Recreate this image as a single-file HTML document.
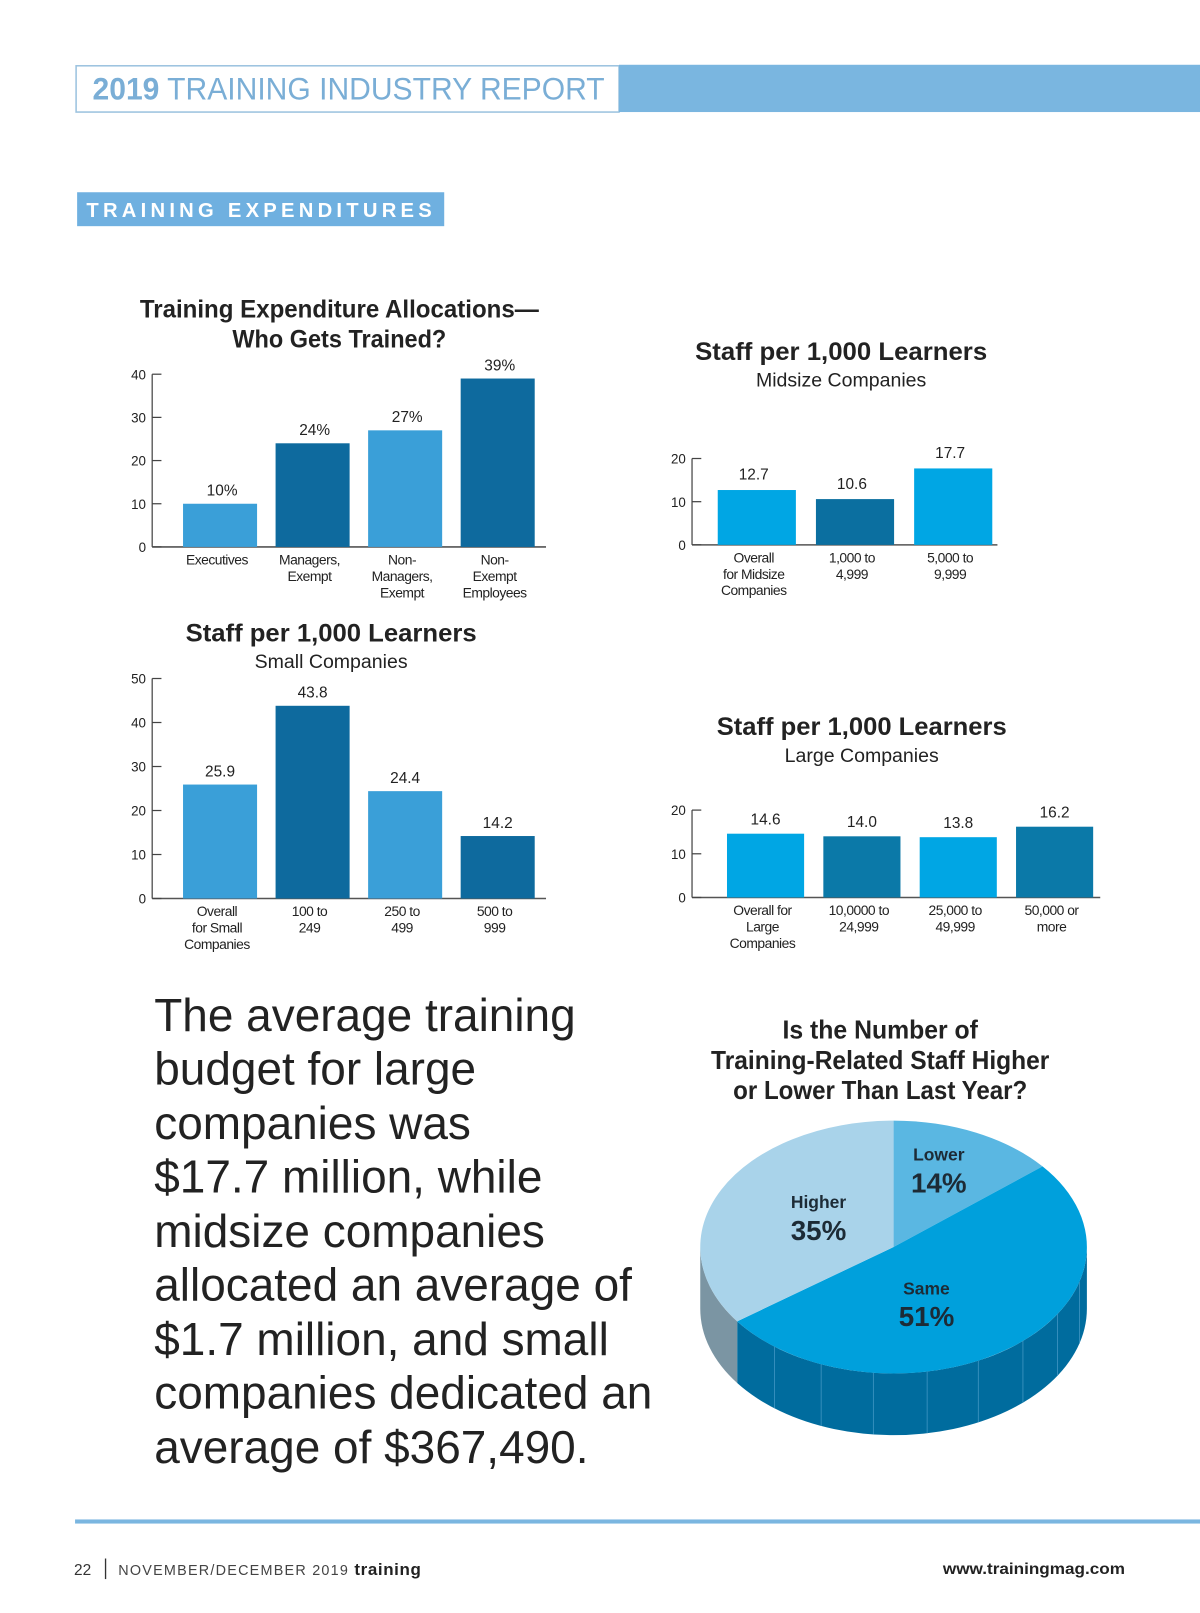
<!DOCTYPE html>
<html><head><meta charset="utf-8"><style>
html,body{margin:0;padding:0;background:#fff;}
svg{display:block;}
text{font-family:"Liberation Sans",sans-serif;}
</style></head><body>
<svg id="page" width="1200" height="1613" viewBox="0 0 1167 1569" preserveAspectRatio="none" xmlns="http://www.w3.org/2000/svg">
<g>
<rect x="74" y="64" width="528" height="45" fill="#fff" stroke="#9cc3df" stroke-width="1.5"/>
<rect x="602" y="63" width="565" height="46" fill="#7ab6e0"/>
<text x="90" y="97" font-size="31" fill="#7aaed6" textLength="498" lengthAdjust="spacingAndGlyphs"><tspan font-weight="bold">2019</tspan> TRAINING INDUSTRY REPORT</text>
</g>
<g>
<rect x="75" y="187" width="357" height="33" fill="#6fb0e0"/>
<text x="84" y="211" font-size="20" font-weight="bold" fill="#fff" letter-spacing="4.2" textLength="340" lengthAdjust="spacingAndGlyphs">TRAINING EXPENDITURES</text>
</g>
<g id="c1"></g>
<g id="c2"></g>
<g id="c3"></g>
<g id="c4"></g>
<g font-size="44.7" fill="#222">
<text x="150" y="1003">The average training</text>
<text x="150" y="1055">budget for large</text>
<text x="150" y="1108">companies was</text>
<text x="150" y="1160">$17.7 million, while</text>
<text x="150" y="1213">midsize companies</text>
<text x="150" y="1265">allocated an average of</text>
<text x="150" y="1318">$1.7 million, and small</text>
<text x="150" y="1370">companies dedicated an</text>
<text x="150" y="1423">average of $367,490.</text>
</g>
<g font-size="25" font-weight="bold" fill="#222" text-anchor="middle">
<text x="856" y="1010" textLength="190" lengthAdjust="spacingAndGlyphs">Is the Number of</text>
<text x="856" y="1040" textLength="329" lengthAdjust="spacingAndGlyphs">Training-Related Staff Higher</text>
<text x="856" y="1069" textLength="286" lengthAdjust="spacingAndGlyphs">or Lower Than Last Year?</text>
</g>
<g id="pie"></g>
<g>
<rect x="73" y="1478" width="1094" height="4" fill="#7ab6e0"/>
<text x="72" y="1532" font-size="15" fill="#333">22</text>
<rect x="102" y="1516" width="1.3" height="20" fill="#333"/>
<text x="115" y="1532" font-size="14" fill="#444" letter-spacing="1.2">NOVEMBER/DECEMBER 2019 <tspan font-weight="bold" fill="#222" letter-spacing="0.6" font-size="16.5">training</tspan></text>
<text x="1094" y="1531" font-size="15" font-weight="bold" fill="#222" text-anchor="end" textLength="177" lengthAdjust="spacingAndGlyphs">www.trainingmag.com</text>
</g>
</svg>
<script>
// Chart 1: allocations
const c1Categories = [["Executives"],["Managers,","Exempt"],["Non-","Managers,","Exempt"],["Non-","Exempt","Employees"]];
const c1Values = [10, 24, 27, 39];
const c1Ticks = [0, 10, 20, 30, 40];
// Chart 2: midsize
const c2Categories = [["Overall","for Midsize","Companies"],["1,000 to","4,999"],["5,000 to","9,999"]];
const c2Values = [12.7, 10.6, 17.7];
const c2Ticks = [0, 10, 20];
// Chart 3: small
const c3Categories = [["Overall","for Small","Companies"],["100 to","249"],["250 to","499"],["500 to","999"]];
const c3Values = [25.9, 43.8, 24.4, 14.2];
const c3Ticks = [0, 10, 20, 30, 40, 50];
// Chart 4: large
const c4Categories = [["Overall for","Large","Companies"],["10,0000 to","24,999"],["25,000 to","49,999"],["50,000 or","more"]];
const c4Values = [14.6, 14.0, 13.8, 16.2];
const c4Ticks = [0, 10, 20];
// Pie
const pieLabels = ["Lower", "Same", "Higher"];
const pieValues = [14, 51, 35];

const NS = "http://www.w3.org/2000/svg";
function mk(parent, tag, attrs, txt){const e=document.createElementNS(NS,tag);for(const k in attrs)e.setAttribute(k,attrs[k]);if(txt!==undefined)e.textContent=txt;parent.appendChild(e);return e;}

function barChart(g, cfg, cats, vals, ticks){
  const max = ticks[ticks.length-1];
  const y = v => cfg.y0 - v/max*(cfg.y0-cfg.yTop);
  const xb = i => cfg.barX0 + i*cfg.step;
  const t = mk(g,'text',{x:cfg.tx,y:cfg.ty,'text-anchor':'middle','font-size':24,'font-weight':'bold',fill:'#222',textLength:cfg.tw,lengthAdjust:'spacingAndGlyphs'},cfg.title);
  
  
  if(cfg.title2){const t2=mk(g,'text',{x:cfg.tx,y:cfg.ty+29,'text-anchor':'middle','font-size':24,'font-weight':'bold',fill:'#222',textLength:cfg.tw2,lengthAdjust:'spacingAndGlyphs'},cfg.title2);
    
    }
  if(cfg.sub){const s=mk(g,'text',{x:cfg.tx,y:cfg.ty+26,'text-anchor':'middle','font-size':19,fill:'#222'},cfg.sub);
    
    }
  mk(g,'line',{x1:cfg.ax,y1:y(max),x2:cfg.ax,y2:cfg.y0,stroke:'#444','stroke-width':1.2});
  mk(g,'line',{x1:cfg.ax,y1:cfg.y0,x2:cfg.axEnd,y2:cfg.y0,stroke:'#555','stroke-width':1.5});
  ticks.forEach(tv=>{
    mk(g,'line',{x1:cfg.ax,y1:y(tv),x2:cfg.ax+9,y2:y(tv),stroke:'#444','stroke-width':1.2});
    const tl=mk(g,'text',{x:cfg.ax-6,y:y(tv)+5,'text-anchor':'end','font-size':13,fill:'#222'},String(tv));
    
    
  });
  vals.forEach((v,i)=>{
    const r=mk(g,'rect',{x:xb(i),y:y(v),width:cfg.bw,height:cfg.y0-y(v),fill:cfg.colors[i%cfg.colors.length]});
    
    
    const vl=mk(g,'text',{x:xb(i)+cfg.bw/2+cfg.vdx,y:y(v)-cfg.vgap,'text-anchor':'middle','font-size':15,fill:'#222'},(cfg.fixed?v.toFixed(1):v)+(cfg.suffix||''));
    
    
    cats[i].forEach((ln,j)=>{
      const cl=mk(g,'text',{x:xb(i)+cfg.bw/2-3,y:cfg.y0+17+j*16,'text-anchor':'middle','font-size':13.5,fill:'#222','letter-spacing':'-0.5'},ln);
      
      
    });
  });
}
barChart(document.getElementById('c1'),{title:'Training Expenditure Allocations\u2014',title2:'Who Gets Trained?',tw:388,tw2:208,tx:330,ty:309,ax:148,axEnd:531,y0:532,yTop:364,barX0:178,step:90,bw:72,colors:['#3a9fd8','#0e6a9e'],suffix:'%',vgap:8,vdx:2},c1Categories,c1Values,c1Ticks);
barChart(document.getElementById('c2'),{title:'Staff per 1,000 Learners',tw:284,sub:'Midsize Companies',tx:818,ty:350,ax:673,axEnd:970,y0:530,yTop:446,barX0:698,step:95.5,bw:76,colors:['#00a6e4','#0b6fa0'],vgap:10,vdx:-3,fixed:true},c2Categories,c2Values,c2Ticks);
barChart(document.getElementById('c3'),{title:'Staff per 1,000 Learners',tw:283,sub:'Small Companies',tx:322,ty:624,ax:148,axEnd:531,y0:874,yTop:660,barX0:178,step:90,bw:72,colors:['#3a9fd8','#0e6a9e'],vgap:8,vdx:0,fixed:true},c3Categories,c3Values,c3Ticks);
barChart(document.getElementById('c4'),{title:'Staff per 1,000 Learners',tw:282,sub:'Large Companies',tx:838,ty:715,ax:673,axEnd:1070,y0:873,yTop:788,barX0:707,step:93.7,bw:75,colors:['#00a6e4','#0b79a8'],vgap:9,vdx:0,fixed:true},c4Categories,c4Values,c4Ticks);

// 3D pie
(function(){
  const g=document.getElementById('pie');
  const cx=869, cy=1213, rx=188, ry=123, depth=60;
  const total=pieValues.reduce((a,b)=>a+b,0);
  const topCol=['#5ab7e2','#00a0dc','#a9d3ea'];
  const sideCol=['#2f86b3','#006c9e','#7b95a3'];
  const labelOff=[[44,-76],[32,54],[-73,-30]];
  const P=(a,dy)=>[cx+rx*Math.cos(a), cy+ry*Math.sin(a)+(dy||0)];
  const TAU=2*Math.PI;
  let a=-Math.PI/2;
  const segs=pieValues.map(v=>{const s=a;a+=v/total*TAU;return [s,a];});
  segs.forEach(([s,e],i)=>{
    let s1=s%TAU; if(s1<0)s1+=TAU; const e1=s1+(e-s);
    [[0,Math.PI],[TAU,TAU+Math.PI]].forEach(([w0,w1])=>{
      const lo=Math.max(s1,w0), hi=Math.min(e1,w1);
      if(hi>lo){
        const p1=P(lo),p2=P(hi);
        const d=`M${p1} A${rx},${ry} 0 0 1 ${p2} L${P(hi,depth)} A${rx},${ry} 0 0 0 ${P(lo,depth)} Z`;
        const p=mk(g,'path',{d:d,fill:sideCol[i]});
        
        
        if(i===1){for(let k=1;k<9;k++){const t=lo+(hi-lo)*k/9;const q=P(t);mk(g,'line',{x1:q[0],y1:q[1],x2:q[0],y2:q[1]+depth,stroke:'#3f95c2','stroke-width':0.8});}}
      }
    });
  });
  segs.forEach(([s,e],i)=>{
    const large=(e-s)>Math.PI?1:0;
    const p=mk(g,'path',{d:`M${cx},${cy} L${P(s)} A${rx},${ry} 0 ${large} 1 ${P(e)} Z`,fill:topCol[i]});
    
    
  });
  segs.forEach(([s,e],i)=>{
    const lx=cx+labelOff[i][0], ly=cy+labelOff[i][1];
    const l1=mk(g,'text',{x:lx,y:ly-8,'text-anchor':'middle','font-size':17,'font-weight':'bold',fill:'#1d2b36'},pieLabels[i]);
    
    
    const l2=mk(g,'text',{x:lx,y:ly+23,'text-anchor':'middle','font-size':27,'font-weight':'bold',fill:'#1d2b36'},pieValues[i]+'%');
    
    
  });
})();
</script>
</body></html>
